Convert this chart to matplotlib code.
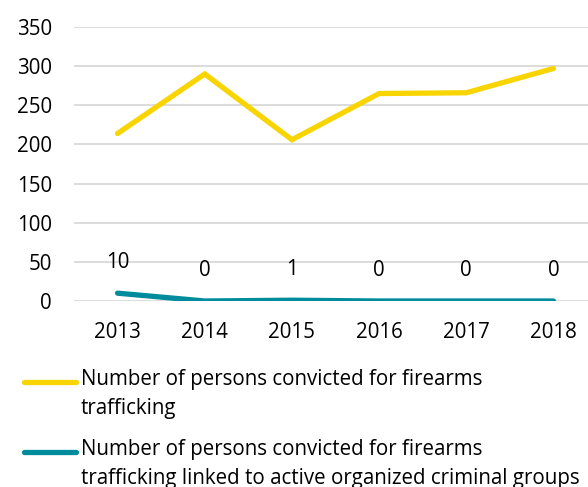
import matplotlib
matplotlib.use("Agg")
import matplotlib.pyplot as plt
from matplotlib.lines import Line2D

years = ["2013", "2014", "2015", "2016", "2017", "2018"]
convicted = [214, 290, 206, 265, 266, 297]
convicted_ocg = [10, 0, 1, 0, 0, 0]
labels = ["Number of persons convicted for firearms\ntrafficking",
          "Number of persons convicted for firearms\ntrafficking linked to active organized criminal groups"]
yticks = [0, 50, 100, 150, 200, 250, 300, 350]

YELLOW = "#F8D500"
TEAL = "#008C9C"
FONT = "Open Sans"
FS = 14.8

plt.rcParams['font.family'] = [FONT, 'DejaVu Sans']

W, H = 588, 487
fig = plt.figure(figsize=(W/100, H/100), dpi=100)
ax = fig.add_axes([74/W, 1 - 301/H, (597-74)/W, (301-27)/H])

x = list(range(len(years)))
ax.plot(x, convicted, color=YELLOW, lw=3.8, solid_capstyle='round', solid_joinstyle='miter', zorder=3)
ax.plot(x, convicted_ocg, color=TEAL, lw=3.8, solid_capstyle='round', zorder=3)
for xi, v in zip(x, convicted_ocg):
    ax.annotate(str(v), (xi, v), xytext=(0, 22), textcoords='offset points',
                ha='center', va='center', fontsize=FS, color='#000000', zorder=4)

ax.set_xlim(-0.5, len(years) - 0.5)
ax.set_ylim(0, 350)
ax.set_yticks(yticks)
ax.set_xticks(x)
ax.set_xticklabels(years)
ax.grid(axis='y', color='#D9D9D9', lw=1.3)
ax.set_axisbelow(True)
for s in ax.spines.values():
    s.set_visible(False)
ax.tick_params(axis='both', length=0, labelsize=FS, colors='#000000')
ax.tick_params(axis='y', pad=16)
ax.tick_params(axis='x', pad=15)

# legend
for (yl, lab, col) in [(382, labels[0], YELLOW), (452, labels[1], TEAL)]:
    fig.add_artist(Line2D([24/W, 76/W], [1 - yl/H, 1 - yl/H], color=col, lw=3.8,
                          solid_capstyle='round', transform=fig.transFigure))
    fig.text(81/W, 1 - (yl - 13)/H, lab, fontsize=FS, ha='left', va='top',
             linespacing=1.5, color='#000000')

fig.savefig("out.png", dpi=100)
